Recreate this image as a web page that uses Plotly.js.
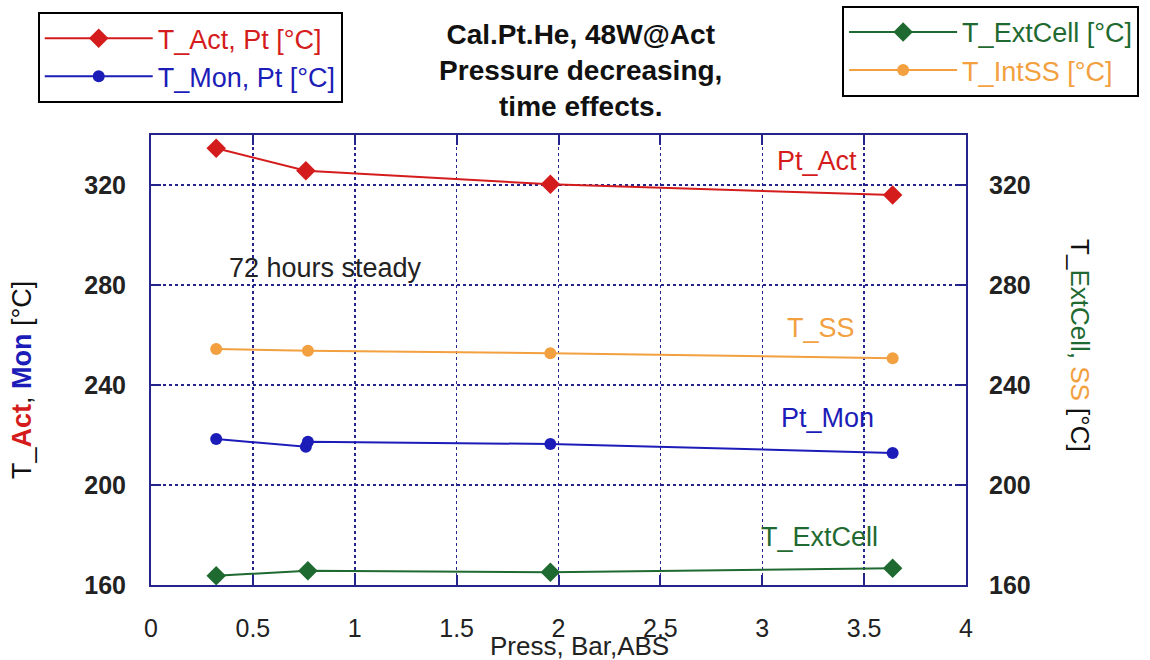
<!DOCTYPE html>
<html>
<head>
<meta charset="utf-8">
<script src="https://cdn.plot.ly/plotly-3.0.1.min.js"></script>
<style>html,body{margin:0;padding:0;background:#fff;}#chart{width:1150px;height:660px;}</style>
</head>
<body>
<div id="chart"></div>
<script>
// ---- data ----
const pressAct = [0.32, 0.76, 1.96, 3.64];
const tAct     = [334.7, 325.7, 320.3, 316.0];

const pressMon = [0.32, 0.76, 0.77, 1.96, 3.64];
const tMon     = [218.4, 215.3, 217.3, 216.4, 212.8];

const pressExt = [0.32, 0.77, 1.96, 3.64];
const tExt     = [163.7, 165.7, 165.1, 166.7];

const pressSS  = [0.32, 0.77, 1.96, 3.64];
const tSS      = [254.4, 253.7, 252.7, 250.7];

const yTicks = [160, 200, 240, 280, 320];
const xTicks = [0, 0.5, 1, 1.5, 2, 2.5, 3, 3.5, 4];

const RED = '#d41c1c', BLUE = '#1c1cb8', GREEN = '#1f6a30', ORANGE = '#f2a040', NAVY = '#24248c';
const FONT = 'Liberation Sans, Arial, sans-serif';

const traces = [
  {x: pressAct, y: tAct, yaxis: 'y', mode: 'lines+markers', legend: 'legend',
   name: '<span style="color:' + RED + '">T_Act, Pt [°C]</span>',
   line: {color: RED, width: 2}, marker: {symbol: 'diamond', size: 15, color: RED}},
  {x: pressMon, y: tMon, yaxis: 'y', mode: 'lines+markers', legend: 'legend',
   name: '<span style="color:' + BLUE + '">T_Mon, Pt [°C]</span>',
   line: {color: BLUE, width: 2}, marker: {symbol: 'circle', size: 12, color: BLUE}},
  {x: pressExt, y: tExt, yaxis: 'y2', mode: 'lines+markers', legend: 'legend2',
   name: '<span style="color:' + GREEN + '">T_ExtCell [°C]</span>',
   line: {color: GREEN, width: 2}, marker: {symbol: 'diamond', size: 15, color: GREEN}},
  {x: pressSS, y: tSS, yaxis: 'y2', mode: 'lines+markers', legend: 'legend2',
   name: '<span style="color:' + ORANGE + '">T_IntSS [°C]</span>',
   line: {color: ORANGE, width: 2}, marker: {symbol: 'circle', size: 12, color: ORANGE}}
];

const axisCommon = {
  showline: true, linecolor: NAVY, linewidth: 2, mirror: 'ticks',
  ticks: 'inside', ticklen: 10, tickwidth: 2, tickcolor: NAVY,
  showgrid: true, gridcolor: NAVY, gridwidth: 1.5, griddash: 'dot',
  zeroline: false
};

const layout = {
  width: 1150, height: 660,
  margin: {l: 151, r: 184, t: 135, b: 75, autoexpand: false},
  paper_bgcolor: '#ffffff', plot_bgcolor: '#ffffff',
  font: {family: FONT, color: '#222'},
  title: {
    text: '<b>Cal.Pt.He, 48W@Act<br>Pressure decreasing,<br>time effects.</b>',
    font: {family: FONT, size: 28, color: '#111'},
    x: 0.505, xref: 'container', xanchor: 'center',
    y: 0.934, yref: 'container', yanchor: 'middle'
  },
  xaxis: Object.assign({}, axisCommon, {
    range: [0, 4], tickvals: xTicks, ticktext: xTicks.map(String),
    tickfont: {family: FONT, size: 25, color: '#222'}, ticklabelstandoff: 20
  }),
  yaxis: Object.assign({}, axisCommon, {
    range: [160, 340], tickvals: yTicks, ticktext: yTicks.map(String),
    tickfont: {family: FONT, size: 25, color: '#222', weight: 'bold'}, ticklabelstandoff: 18
  }),
  yaxis2: Object.assign({}, axisCommon, {
    overlaying: 'y', side: 'right', showgrid: false,
    range: [160, 340], tickvals: yTicks, ticktext: yTicks.map(String),
    tickfont: {family: FONT, size: 25, color: '#222', weight: 'bold'}, ticklabelstandoff: 16
  }),
  legend: {
    x: -0.139, y: 1.273, xanchor: 'left', yanchor: 'top',
    bordercolor: '#000', borderwidth: 2, bgcolor: '#fff',
    font: {family: FONT, size: 27}, itemwidth: 108, tracegroupgap: 0
  },
  legend2: {
    x: 0.848, y: 1.287, xanchor: 'left', yanchor: 'top',
    bordercolor: '#000', borderwidth: 2, bgcolor: '#fff',
    font: {family: FONT, size: 27}, itemwidth: 108, tracegroupgap: 0
  },
  showlegend: true,
  annotations: [
    {xref: 'paper', yref: 'paper', x: 0.526, y: -0.136, showarrow: false,
     text: 'Press, Bar,ABS', font: {family: FONT, size: 26, color: '#222'},
     xanchor: 'center', yanchor: 'middle'},
    {xref: 'paper', yref: 'paper', x: -0.158, y: 0.456, showarrow: false, textangle: -90,
     text: 'T_<b><span style="color:' + RED + '">Act</span></b>, <b><span style="color:' + BLUE + '">Mon</span></b> [°C]',
     font: {family: FONT, size: 27, color: '#111'}, xanchor: 'center', yanchor: 'middle'},
    {xref: 'paper', yref: 'paper', x: 1.14, y: 0.533, showarrow: false, textangle: 90,
     text: 'T_<span style="color:' + GREEN + '">ExtCell,</span> <span style="color:' + ORANGE + '">SS</span> [°C]',
     font: {family: FONT, size: 26, color: '#111'}, xanchor: 'center', yanchor: 'middle'},
    {xref: 'x', yref: 'y', x: 0.854, y: 286.8, showarrow: false, text: '72 hours steady',
     font: {family: FONT, size: 27, color: '#222'}},
    {xref: 'x', yref: 'y', x: 3.27, y: 329.6, showarrow: false, text: 'Pt_Act',
     font: {family: FONT, size: 27, color: RED}},
    {xref: 'x', yref: 'y', x: 3.29, y: 262.8, showarrow: false, text: 'T_SS',
     font: {family: FONT, size: 27, color: ORANGE}},
    {xref: 'x', yref: 'y', x: 3.32, y: 226.8, showarrow: false, text: 'Pt_Mon',
     font: {family: FONT, size: 27, color: BLUE}},
    {xref: 'x', yref: 'y', x: 3.28, y: 179.2, showarrow: false, text: 'T_ExtCell',
     font: {family: FONT, size: 27, color: GREEN}}
  ]
};

Plotly.newPlot('chart', traces, layout, {displayModeBar: false, staticPlot: true});
</script>
</body>
</html>
